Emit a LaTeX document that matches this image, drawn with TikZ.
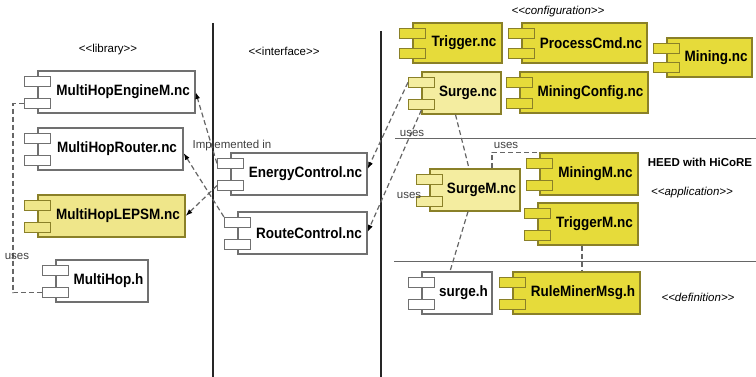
\documentclass[tikz,border=0pt]{standalone}
\usepackage{fontspec}
\setmainfont{Liberation Sans}
\newfontfamily\compfont[FakeStretch=0.9]{Liberation Sans}
\usetikzlibrary{calc,arrows.meta}
\definecolor{ystrong}{HTML}{E6DB3A}
\definecolor{ylight}{HTML}{F4EDA0}
\definecolor{ymid}{HTML}{EFE68A}
\definecolor{yborder}{HTML}{8A8028}
\definecolor{wborder}{HTML}{707070}
\definecolor{dashc}{HTML}{666666}
\tikzset{
 compbox/.style={draw, rectangle, inner sep=0pt, line width=1.2pt},
 tabbox/.style={draw, rectangle, inner sep=0pt, minimum width=26, minimum height=10, line width=0.9pt},
 complbl/.style={font=\compfont\fontsize{15}{16}\selectfont\bfseries, inner sep=0pt},
 smalllbl/.style={font=\fontsize{11.5}{12}\selectfont, text=black!75, inner sep=0pt},
 stereolbl/.style={font=\fontsize{11.5}{12}\selectfont, inner sep=0pt},
 stereoit/.style={font=\fontsize{11.5}{12}\selectfont\itshape, inner sep=0pt},
 heedlbl/.style={font=\fontsize{11.5}{12}\selectfont\bfseries, inner sep=0pt},
 dep/.style={draw=dashc, dash pattern=on 5pt off 3pt, line width=1.2pt},
 deparr/.style={dep, -{Latex[length=7pt,width=5pt,color=black]}},
 sepline/.style={draw=black!85, line width=2pt},
 hsep/.style={draw=black!60, line width=1pt},
}
\newcommand{\comp}[8]{%
 \node[compbox, fill=#6, draw=#7, minimum width={#4-#2}, minimum height={#5-#3}] (#1) at ({(#2+#4)/2},{(#3+#5)/2}) {};
 \node[tabbox, fill=#6, draw=#7] (#1-u) at ($(#1.north west)+(0,11)$) {};
 \node[tabbox, fill=#6, draw=#7] (#1-l) at ($(#1.south west)+(0,-10)$) {};
 \node[complbl] (#1-t) at ($(#1.center)+(6.5,0)$) {#8};
}
\begin{document}
\begin{tikzpicture}[x=1pt,y=-1pt]
\useasboundingbox (0,0) rectangle (756,377);
% separators
\coordinate (v1a) at (213,23); \coordinate (v1b) at (213,377);
\coordinate (v2a) at (381,31); \coordinate (v2b) at (381,377);
\coordinate (h1a) at (395,139); \coordinate (h1b) at (756,139);
\coordinate (h2a) at (394,262); \coordinate (h2b) at (756,262);
\draw[sepline] (v1a) -- (v1b);
\draw[sepline] (v2a) -- (v2b);
\draw[hsep] (h1a) -- (h1b);
\draw[hsep] (h2a) -- (h2b);
% components
\comp{mhe}{38}{71}{195}{113}{white}{wborder}{MultiHopEngineM.nc}
\comp{mhr}{38}{128}{183}{170}{white}{wborder}{MultiHopRouter.nc}
\comp{mhl}{38}{195}{185}{237}{ymid}{yborder}{MultiHopLEPSM.nc}
\comp{mhh}{56}{260}{148}{302}{white}{wborder}{MultiHop.h}
\comp{ec}{231}{153}{367}{195}{white}{wborder}{EnergyControl.nc}
\comp{rc}{238}{212}{367}{254}{white}{wborder}{RouteControl.nc}
\comp{trg}{413}{23}{502}{63}{ystrong}{yborder}{Trigger.nc}
\comp{pcmd}{522}{23}{647}{63}{ystrong}{yborder}{ProcessCmd.nc}
\comp{mng}{667}{38}{752}{77}{ystrong}{yborder}{Mining.nc}
\comp{srg}{422}{72}{501}{114}{ylight}{yborder}{Surge.nc}
\comp{mcfg}{520}{72}{648}{113}{ystrong}{yborder}{MiningConfig.nc}
\comp{srgm}{430}{169}{520}{211}{ylight}{yborder}{SurgeM.nc}
\comp{mngm}{540}{153}{638}{195}{ystrong}{yborder}{MiningM.nc}
\comp{trgm}{538}{203}{638}{245}{ystrong}{yborder}{TriggerM.nc}
\comp{sh}{422}{272}{492}{314}{white}{wborder}{surge.h}
\comp{rmm}{513}{272}{640}{314}{ystrong}{yborder}{RuleMinerMsg.h}
% connectors
\draw[deparr] (ec-u.west) -- (mhe.east);
\draw[deparr] (rc-u.north west) -- ($(mhr.east)+(0,4)$);
\draw[deparr] (ec-l.west) -- (mhl.east);
\draw[deparr] (srg-u.west) -- ($(ec.east)+(0,-5)$);
\draw[deparr] (srg-l.south) -- ($(rc.east)+(0,-1)$);
\draw[dep] ($(srg.south)+(-6,0)$) -- ($(srgm.north)+(-6,0)$);
\draw[dep] ($(srgm.north)+(17,0)$) |- (mngm.north west);
\draw[dep] ($(srgm.south)+(-7,0)$) -- ($(sh.north)+(-7,0)$);
\draw[dep] ($(trgm.south)+(-6,0)$) coordinate (ta) -- (ta |- rmm.north);
\draw[dep] (mhe-l.west) -- ++(-11,0) |- (mhh-l.west);
% labels
\node[smalllbl] (u1) at (17,256) {uses};
\node[smalllbl] (u2) at (412,133) {uses};
\node[smalllbl] (u3) at (409,195) {uses};
\node[smalllbl] (u4) at (506,145) {uses};
\node[smalllbl] (impl) at (232,146) {Implemented in};
\node[stereolbl] (slib) at (108,50) {<{}<library>{}>};
\node[stereolbl] (sint) at (284,51) {<{}<interface>{}>};
\node[stereoit] (scfg) at (558,12) {<{}<configuration>{}>};
\node[stereoit] (sapp) at (692,193) {<{}<application>{}>};
\node[stereoit] (sdef) at (698,297) {<{}<definition>{}>};
\node[heedlbl] (heed) at (700,162) {HEED with HiCoRE};
\end{tikzpicture}
\end{document}
